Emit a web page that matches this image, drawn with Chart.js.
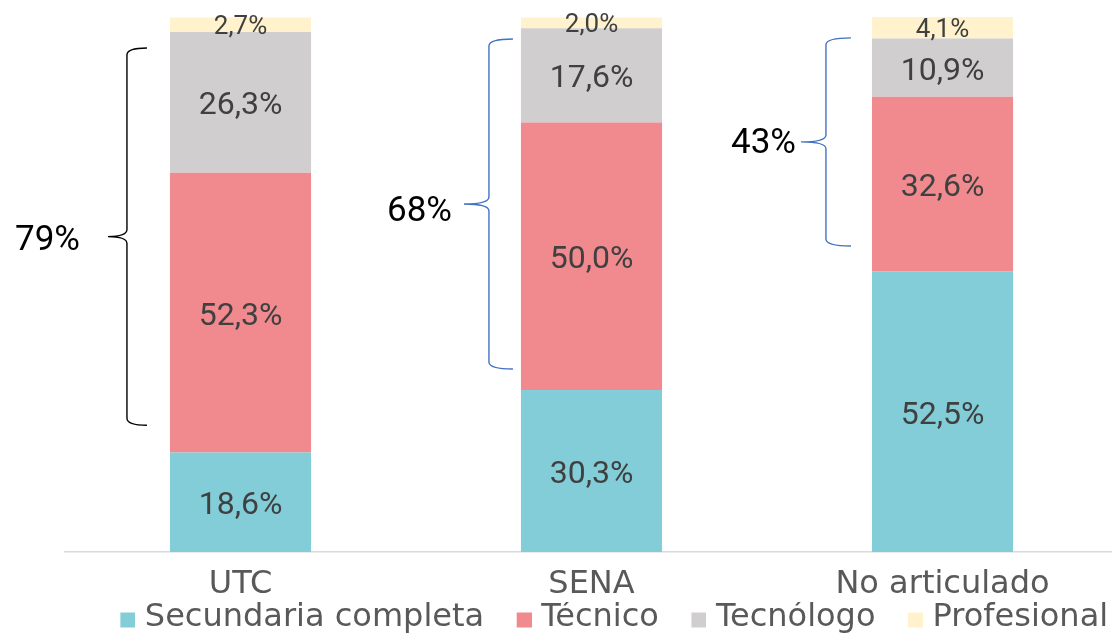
<!DOCTYPE html>
<html><head><meta charset="utf-8">
<style>html,body{margin:0;padding:0;background:#fff;overflow:hidden;width:1112px;height:634px}
#wrap{width:1120px;height:634px}</style>
<script src="https://cdn.jsdelivr.net/npm/chart.js@4/dist/chart.umd.min.js"></script>
</head><body><div id="wrap"><canvas id="c" width="1120" height="634"></canvas></div>
<script>
const categories = ['UTC', 'SENA', 'No articulado'];
const seriesNames = ['Secundaria completa', 'Técnico', 'Tecnólogo', 'Profesional'];
const secundaria = [18.6, 30.3, 52.5];
const tecnico = [52.3, 50.0, 32.6];
const tecnologo = [26.3, 17.6, 10.9];
const profesional = [2.7, 2.0, 4.1];
const bracketLabels = ['79%', '68%', '43%'];
const bracketFrom = [23.7, 34.2, 57.2];
const bracketTo = [94.2, 95.9, 96.1];

const colors = ['#82CDD8', '#F08A8E', '#D0CECF', '#FFF2CC'];
const bracketColors = ['#000000', '#4472C4', '#4472C4'];
const bracketGeom = [
  {spine: -43, tip: -23, point: -62, label: -90, dy: 5},
  {spine: -32, tip: -8, point: -57, label: -69, dy: 8},
  {spine: -46, tip: -21, point: -71, label: -76, dy: 2}
];

const legendIcons = colors.map(c => {
  const cv = document.createElement('canvas');
  cv.width = 54; cv.height = 23;
  const g = cv.getContext('2d');
  g.fillStyle = c; g.fillRect(39, 6, 15, 15);
  return cv;
});

const segLabels = {
  id: 'segLabels',
  afterDatasetsDraw(chart) {
    const ctx = chart.ctx;
    chart.data.datasets.forEach((ds, di) => {
      const meta = chart.getDatasetMeta(di);
      meta.data.forEach((bar, i) => {
        const v = ds.data[i];
        const p = bar.getProps(['x', 'y', 'base'], true);
        ctx.save();
        ctx.font = (di === 3 ? '26px' : '32px') + ' Roboto';
        ctx.fillStyle = '#404040';
        ctx.textAlign = 'center';
        ctx.textBaseline = 'middle';
        ctx.fillText(v.toFixed(1).replace('.', ',') + '%', p.x, (p.y + p.base) / 2 + (di === 3 ? 3 : 4));
        ctx.restore();
      });
    });
  }
};

const brackets = {
  id: 'brackets',
  afterDatasetsDraw(chart) {
    const ctx = chart.ctx, ys = chart.scales.y;
    const meta = chart.getDatasetMeta(0);
    bracketLabels.forEach((lab, i) => {
      const p = meta.data[i].getProps(['x', 'width'], true);
      const left = p.x - p.width / 2;
      const g = bracketGeom[i];
      const top = ys.getPixelForValue(bracketTo[i]);
      const bot = ys.getPixelForValue(bracketFrom[i]);
      const mid = (top + bot) / 2;
      const sx = left + g.spine, tx = left + g.tip, px = left + g.point, r = 7;
      ctx.save();
      ctx.strokeStyle = bracketColors[i];
      ctx.lineWidth = 1.4;
      ctx.beginPath();
      ctx.moveTo(tx, top);
      ctx.quadraticCurveTo(sx, top, sx, top + r);
      ctx.lineTo(sx, mid - r);
      ctx.quadraticCurveTo(sx, mid, px, mid);
      ctx.quadraticCurveTo(sx, mid, sx, mid + r);
      ctx.lineTo(sx, bot - r);
      ctx.quadraticCurveTo(sx, bot, tx, bot);
      ctx.stroke();
      ctx.font = '35px Roboto';
      ctx.fillStyle = '#000000';
      ctx.textAlign = 'right';
      ctx.textBaseline = 'middle';
      ctx.fillText(lab, left + g.label, mid + g.dy);
      ctx.restore();
    });
  }
};

const legendShift = {
  id: 'legendShift',
  afterLayout(chart) {
    const l = chart.legend;
    if (!l) return;
    l.left += 39; l.right += 39; l.top += 5; l.bottom += 5;
  }
};

const seriesData = [secundaria, tecnico, tecnologo, profesional];

new Chart(document.getElementById('c'), {
  type: 'bar',
  data: {
    labels: categories,
    datasets: seriesNames.map((n, i) => ({
      label: n,
      data: seriesData[i],
      backgroundColor: colors[i],
      borderWidth: 0,
      barPercentage: 0.402,
      categoryPercentage: 1
    }))
  },
  options: {
    responsive: false,
    animation: false,
    devicePixelRatio: 1,
    layout: {padding: {top: 17, left: 0, right: 2, bottom: -5}},
    plugins: {
      tooltip: {enabled: false},
      legend: {
        position: 'bottom',
        labels: {
          usePointStyle: true,
          pointStyleWidth: 41,
          boxHeight: 15,
          padding: 0,
          color: '#595959',
          font: {family: 'DejaVu Sans', size: 32},
          generateLabels(chart) {
            const items = Chart.defaults.plugins.legend.labels.generateLabels(chart);
            items.forEach((it, k) => { it.pointStyle = legendIcons[k]; });
            return items;
          }
        }
      }
    },
    scales: {
      x: {
        stacked: true,
        grid: {display: false, drawTicks: false},
        border: {display: true, color: '#D9D9D9', width: 1.5},
        ticks: {font: {family: 'DejaVu Sans', size: 32}, color: '#595959', padding: 13, maxRotation: 0, autoSkip: false},
        afterFit(s) { s.height = 45; }
      },
      y: {
        stacked: true, min: 0, max: 100, position: 'left',
        ticks: {display: false},
        grid: {display: false},
        border: {display: false},
        afterFit(s) { s.width = 65; }
      }
    }
  },
  plugins: [segLabels, brackets, legendShift]
});
</script>
</body></html>
